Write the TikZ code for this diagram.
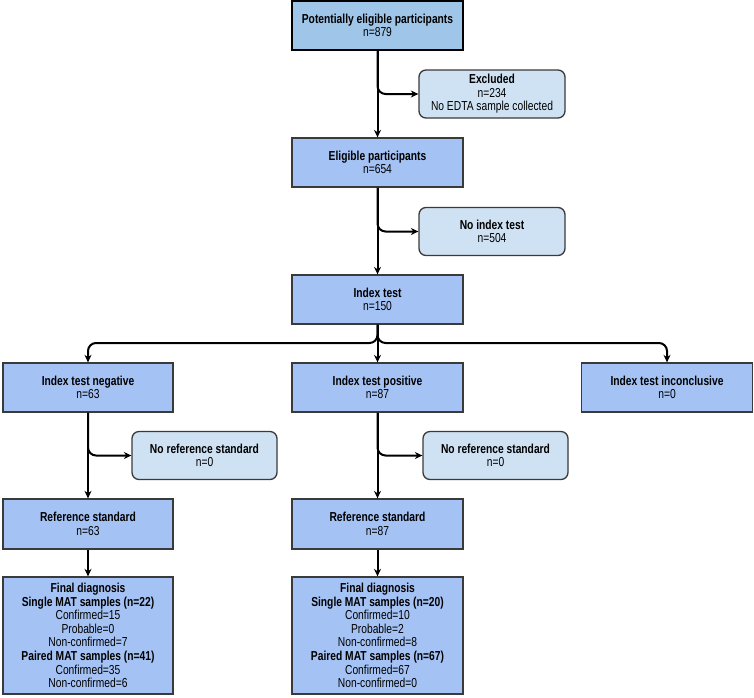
\documentclass[tikz,border=0pt]{standalone}
\usepackage{fontspec}
\newfontfamily\narrowfont{Liberation Sans}[FakeStretch=0.79]
\usetikzlibrary{arrows.meta}

\definecolor{topblue}{HTML}{9FC5E8}
\definecolor{stageblue}{HTML}{A4C2F4}
\definecolor{sideblue}{HTML}{CFE2F3}
\definecolor{edgegray}{HTML}{3A3A3A}

\begin{document}
\begin{tikzpicture}[
  x=1pt, y=-1pt,
  stage/.style={
    rectangle, draw=edgegray, line width=1.3pt, fill=stageblue,
    minimum width=171pt, minimum height=49pt, inner sep=0pt,
    align=center, font=\narrowfont\fontsize{13}{13.6}\selectfont
  },
  sidebox/.style={
    stage, rounded corners=7pt, fill=sideblue,
    minimum width=146pt, minimum height=48pt
  },
  flow/.style={-{Stealth[length=7.5pt,width=7pt]}, line width=2pt, draw=black},
]

\useasboundingbox (0,0) rectangle (754,697);

%% Main column
\node[stage, fill=topblue, draw=black, line width=1.6pt] (pot) at (377.5,25.5)
  {\textbf{Potentially eligible participants}\\n=879};
\node[stage] (elig) at (377.5,162.5) {\textbf{Eligible participants}\\n=654};
\node[stage] (idx) at (377.5,299.5) {\textbf{Index test}\\n=150};

%% Side boxes
\node[sidebox] (excl) at (492,94)
  {\textbf{Excluded}\\n=234\\No EDTA sample collected};
\node[sidebox] (noidx) at (492,231.5) {\textbf{No index test}\\n=504};

%% Index test outcomes
\node[stage, minimum width=170pt] (neg) at (88,387.5) {\textbf{Index test negative}\\n=63};
\node[stage] (pos) at (377.5,387.5) {\textbf{Index test positive}\\n=87};
\node[stage] (inc) at (667,387.5) {\textbf{Index test inconclusive}\\n=0};

\node[sidebox, minimum width=145pt] (noref1) at (204.5,455.5)
  {\textbf{No reference standard}\\n=0};
\node[sidebox, minimum width=145pt] (noref2) at (495.5,455.5)
  {\textbf{No reference standard}\\n=0};

%% Reference standard
\node[stage, minimum width=170pt, minimum height=50pt] (ref1) at (88,524)
  {\textbf{Reference standard}\\n=63};
\node[stage, minimum height=50pt] (ref2) at (377.5,524)
  {\textbf{Reference standard}\\n=87};

%% Final diagnosis
\node[stage, minimum width=170pt, minimum height=117pt] (fin1) at (88,635.5)
  {\textbf{Final diagnosis}\\\textbf{Single MAT samples (n=22)}\\Confirmed=15\\Probable=0\\
   Non-confirmed=7\\\textbf{Paired MAT samples (n=41)}\\Confirmed=35\\Non-confirmed=6};
\node[stage, minimum height=117pt] (fin2) at (377.5,635.5)
  {\textbf{Final diagnosis}\\\textbf{Single MAT samples (n=20)}\\Confirmed=10\\Probable=2\\
   Non-confirmed=8\\\textbf{Paired MAT samples (n=67)}\\Confirmed=67\\Non-confirmed=0};

%% Connectors
\draw[flow] (pot) -- (elig);
\draw[flow, rounded corners=8pt] (pot.south) |- (excl.west);
\draw[flow] (elig) -- (idx);
\draw[flow, rounded corners=8pt] (elig.south) |- (noidx.west);

\coordinate (split) at (377.5,343);
\draw[flow, rounded corners=8pt] (idx.south) -- (split) -| (neg.north);
\draw[flow, rounded corners=8pt] (idx.south) -- (split) -| (inc.north);
\draw[flow] (idx) -- (pos);

\draw[flow] (neg) -- (ref1);
\draw[flow, rounded corners=8pt] (neg.south) |- (noref1.west);
\draw[flow] (pos) -- (ref2);
\draw[flow, rounded corners=8pt] (pos.south) |- (noref2.west);

\draw[flow] (ref1) -- (fin1);
\draw[flow] (ref2) -- (fin2);

\end{tikzpicture}
\end{document}
